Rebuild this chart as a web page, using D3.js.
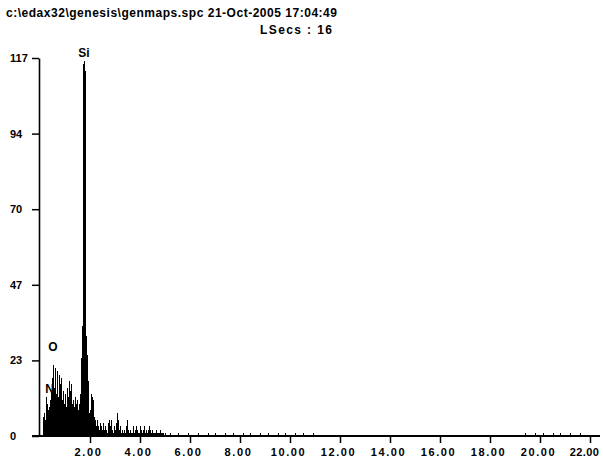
<!DOCTYPE html>
<html>
<head>
<meta charset="utf-8">
<script src="https://cdn.jsdelivr.net/npm/d3@7"></script>
<style>
    body { margin: 0; background: #fff; }
    svg text { font-family: "Liberation Sans", Arial, sans-serif; font-weight: bold; fill: #000; }
</style>
</head>
<body>
<svg id="chart" width="603" height="463"></svg>
<script>
// spectrum header
const titleLine = "c:\\edax32\\genesis\\genmaps.spc  21-Oct-2005 17:04:49";
const liveLine = "LSecs : 16";

// dense part of the spectrum: channels from 0.12 keV, 0.04 keV wide
const channelStart = 0.12;
const channelWidth = 0.04;
const counts = [
    6, 7, 5, 12, 10, 8, 9, 11, 14, 18,
    22, 15, 21, 13, 20, 12, 19, 16, 18, 11,
    14, 10, 13, 9, 15, 12, 17, 14, 16, 10,
    11, 9, 12, 10, 11, 8, 10, 13, 24, 34,
    115, 116, 113, 31, 25, 17, 7, 8, 13, 12,
    11, 6, 5, 3, 5, 3, 2, 4, 3, 2,
    4, 2, 3, 2, 1, 4, 5, 3, 5, 2,
    1, 3, 2, 4, 7, 5, 2, 3, 1, 2,
    1, 2, 1, 3, 5, 2, 1, 2, 1, 1,
    3, 1, 2, 3, 2, 1, 1, 3, 2, 1,
    2, 3, 1, 2, 1, 2, 3, 2, 1, 2,
    1, 1, 1, 2, 1, 1, 1, 2, 1, 1,
    1, 0, 1
];

// sparse single counts further out
const traceEnergies = [5.2, 5.5, 5.9, 6.3, 6.7, 7.0, 7.4, 7.7, 8.1, 8.4, 8.8, 9.1, 9.5, 9.8, 10.2, 10.5, 10.9, 19.4, 19.8, 20.1, 20.5, 20.8, 21.2, 21.6];
const traceCounts = [1, 1, 1, 1, 1, 1, 1, 1, 1, 1, 1, 1, 1, 1, 1, 1, 1, 1, 1, 1, 1, 1, 1, 1];

// peak labels
const peakNames = ["N", "O", "Si"];
const peakEnergies = [0.38, 0.52, 1.76];
const peakLabelCounts = [13.3, 26.3, 117.3];

// axes
const xTicks = [2, 4, 6, 8, 10, 12, 14, 16, 18, 20, 22];
const xTickLabels = ["2.00", "4.00", "6.00", "8.00", "10.00", "12.00", "14.00", "16.00", "18.00", "20.00", "22.00"];
const yTicks = [0, 23.4, 46.8, 70.2, 93.6, 117];
const yTickLabels = ["0", "23", "47", "70", "94", "117"];

const svg = d3.select("#chart");

const x = d3.scaleLinear().domain([0, 22.4]).range([40, 600]);
const y = d3.scaleLinear().domain([0, 117]).range([436, 58]);

svg.append("text")
    .attr("x", 6)
    .attr("y", 17)
    .attr("textLength", 331)
    .attr("lengthAdjust", "spacing")
    .style("font-size", "12px")
    .text(titleLine);

svg.append("text")
    .attr("x", 260)
    .attr("y", 34)
    .attr("textLength", 72)
    .attr("lengthAdjust", "spacing")
    .style("font-size", "12px")
    .text(liveLine);

const channels = counts.map((c, i) => ({ e: channelStart + i * channelWidth, c: c }));
const trace = traceEnergies.map((e, i) => ({ e: e, c: traceCounts[i] }));

svg.append("g")
    .attr("shape-rendering", "crispEdges")
    .selectAll("rect")
    .data(channels.concat(trace))
    .enter().append("rect")
    .attr("x", d => Math.round(x(d.e)))
    .attr("width", 1)
    .attr("y", d => y(d.c))
    .attr("height", d => y(0) - y(d.c))
    .attr("fill", "#000");

// y axis
const yAxis = svg.append("g")
    .attr("transform", "translate(39,0)")
    .call(d3.axisLeft(y)
        .tickValues(yTicks)
        .tickFormat((d, i) => yTickLabels[i])
        .tickSize(7)
        .tickSizeOuter(0));
yAxis.select(".domain").attr("stroke-width", 1.6);
yAxis.selectAll(".tick line").attr("stroke-width", 1.5);
yAxis.selectAll(".tick text")
    .attr("x", -29)
    .attr("text-anchor", "start")
    .style("font-size", "11px");

// x axis
const xAxis = svg.append("g")
    .attr("transform", "translate(0,436)")
    .call(d3.axisBottom(x)
        .tickValues(xTicks)
        .tickFormat((d, i) => xTickLabels[i])
        .tickSize(7)
        .tickSizeOuter(0));
xAxis.select(".domain").remove();
xAxis.append("line")
    .attr("x1", 32)
    .attr("x2", 600)
    .attr("stroke", "#000")
    .attr("stroke-width", 2);
xAxis.selectAll(".tick line").attr("stroke-width", 1.5);
xAxis.selectAll(".tick text")
    .attr("dx", -2)
    .attr("y", 12)
    .style("font-size", "11px")
    .style("letter-spacing", "1.6px");
// last label sits at the right edge, pull it in so it is not clipped
xAxis.selectAll(".tick text")
    .filter((d, i) => i === xTicks.length - 1)
    .attr("dx", -6)
    .style("letter-spacing", "0.4px");

svg.append("g")
    .selectAll("text")
    .data(peakNames)
    .enter().append("text")
    .attr("x", (d, i) => x(peakEnergies[i]))
    .attr("y", (d, i) => y(peakLabelCounts[i]))
    .attr("text-anchor", "middle")
    .style("font-size", "12px")
    .text(d => d);
</script>
</body>
</html>
